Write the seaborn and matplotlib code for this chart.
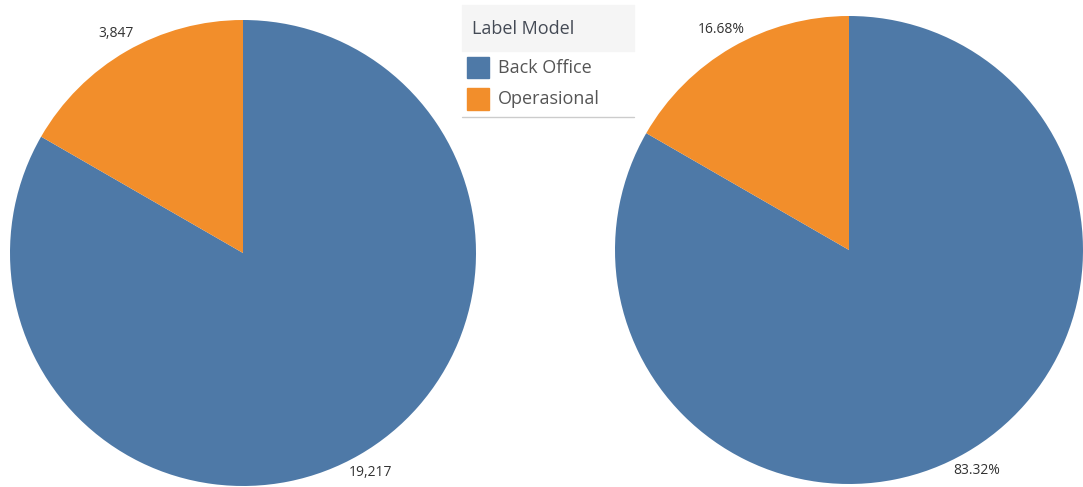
import matplotlib
matplotlib.use("Agg")
import matplotlib.pyplot as plt
import seaborn as sns
from matplotlib.patches import Rectangle
from matplotlib.lines import Line2D

categories = ["Back Office", "Operasional"]
counts = [19217, 3847]
legend_title = "Label Model"

sns.set_style("white")
plt.rcParams["font.family"] = ["Open Sans", "DejaVu Sans"]
colors = sns.color_palette(["#4E79A7", "#F28E2B"])

W, H = 1083, 487
fig = plt.figure(figsize=(W / 100, H / 100), dpi=100)


def px_box(x0, y0, w, h):
    # pixel box (top-left origin) -> figure fraction rect
    return [x0 / W, (H - y0 - h) / H, w / W, h / H]


total = sum(counts)
count_labels = [f"{c:,}" for c in counts]
pct_labels = [f"{c / total * 100:.2f}%" for c in counts]

for (cx, cy, r), labels in [((243, 253, 233), count_labels),
                            ((849, 250, 234), pct_labels)]:
    ax = fig.add_axes(px_box(cx - r, cy - r, 2 * r, 2 * r))
    wedges, texts = ax.pie(counts, labels=labels, colors=colors, startangle=90,
                           counterclock=False, labeldistance=1.09,
                           wedgeprops=dict(linewidth=0),
                           textprops=dict(fontsize=10, color="#333333"))
    for t in texts:
        t.set_ha("center")
    ax.set_xlim(-1, 1)
    ax.set_ylim(-1, 1)

# legend (Tableau style)
fig.patches.append(Rectangle((462 / W, (H - 51) / H), 172 / W, 46 / H,
                             transform=fig.transFigure, color="#f5f5f5", zorder=0))
fig.text(472 / W, (H - 29) / H, legend_title, fontsize=13, color="#444a55",
         ha="left", va="center")
for i, (cat, col) in enumerate(zip(categories, colors)):
    top = 57 + i * 31.5
    fig.patches.append(Rectangle((467 / W, (H - top - 21) / H), 22 / W, 21 / H,
                                 transform=fig.transFigure, color=col))
    fig.text(498 / W, (H - top - 11) / H, cat, fontsize=13, color="#555555",
             ha="left", va="center")
fig.lines.append(Line2D([462 / W, 634 / W], [(H - 117) / H] * 2,
                        transform=fig.transFigure, color="#cccccc", lw=1))

fig.savefig("out.png", dpi=100)
